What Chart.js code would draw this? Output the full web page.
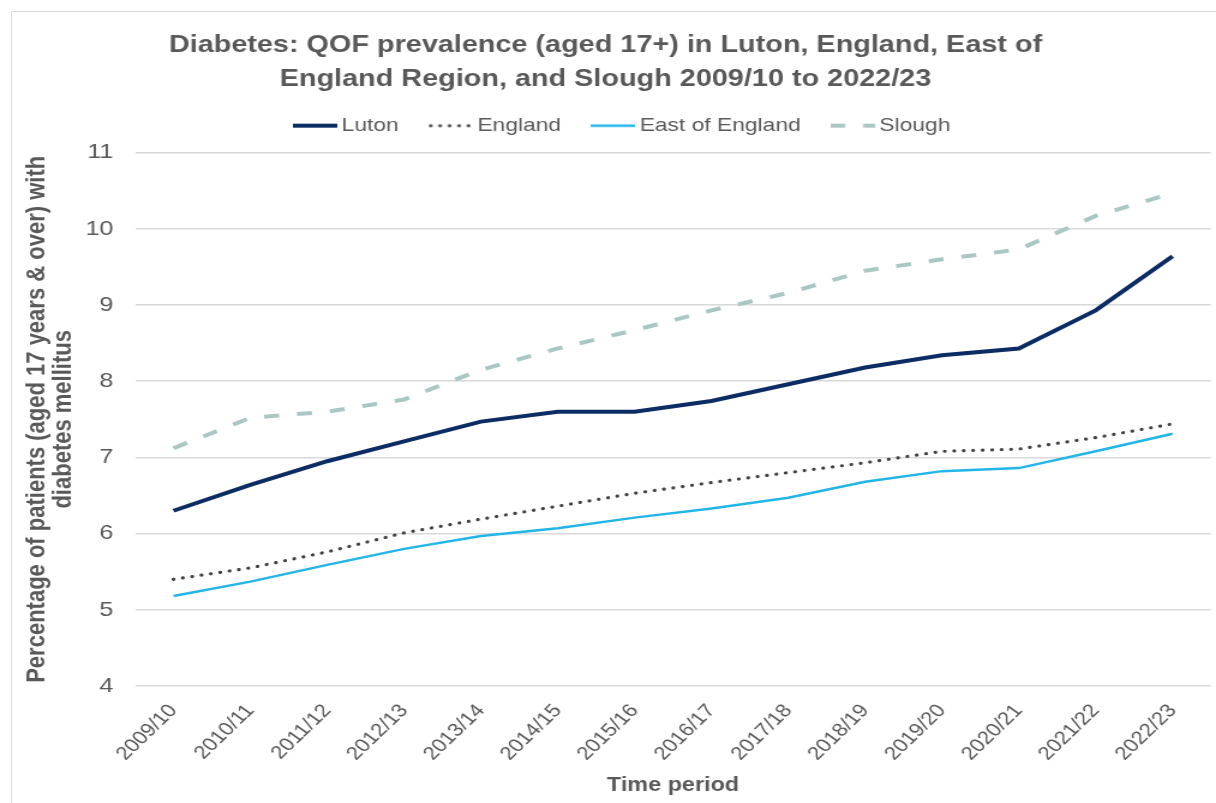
<!DOCTYPE html>
<html>
<head>
<meta charset="utf-8">
<script src="https://cdn.jsdelivr.net/npm/chart.js@4.4.1/dist/chart.umd.min.js"></script>
<style>
  html, body { margin: 0; padding: 0; background: #ffffff; }
  #wrap { position: relative; width: 1216px; height: 803px; overflow: hidden; background: #ffffff; }
  #frame { position: absolute; left: 11px; top: 11px; width: 1220px; height: 800px; border: 1px solid #d9d9d9; box-sizing: border-box; }
  /* the chart is laid out on a narrower canvas and widened, giving the wide lettering */
  #c { position: absolute; left: 0; top: 0; transform-origin: 0 0; }
</style>
</head>
<body>
<div id="wrap">
  <div id="frame"></div>
  <canvas id="c"></canvas>
</div>
<script>
// Financial years shown on the x axis
const periods = ['2009/10', '2010/11', '2011/12', '2012/13', '2013/14', '2014/15', '2015/16',
                 '2016/17', '2017/18', '2018/19', '2019/20', '2020/21', '2021/22', '2022/23'];

// QOF diabetes prevalence, % of patients aged 17+
const luton         = [6.30, 6.64, 6.95, 7.21, 7.47, 7.60, 7.60, 7.74, 7.96, 8.18, 8.34, 8.43, 8.93, 9.64];
const england       = [5.40, 5.55, 5.76, 6.01, 6.19, 6.36, 6.53, 6.67, 6.80, 6.93, 7.08, 7.11, 7.26, 7.44];
const eastOfEngland = [5.18, 5.37, 5.59, 5.80, 5.97, 6.07, 6.21, 6.33, 6.47, 6.68, 6.82, 6.86, 7.08, 7.31];
const slough        = [7.12, 7.52, 7.60, 7.76, 8.15, 8.43, 8.67, 8.93, 9.16, 9.45, 9.60, 9.73, 10.17, 10.47];

// Value axis range and step
const yMin = 4;
const yMax = 11;
const yStep = 1;

const titleLines = ['Diabetes: QOF prevalence (aged 17+) in Luton, England, East of',
                    'England Region, and Slough 2009/10 to 2022/23'];
const yTitleLines = ['Percentage of patients (aged 17 years & over) with', 'diabetes mellitus'];
const xTitle = 'Time period';

const TEXT = '#595959';
const FONT = "'Liberation Sans', Arial, sans-serif";

// Canvas geometry: drawn at CANVAS_W wide, then widened to PAGE_W
const PAGE_W = 1216;
const CANVAS_W = 1013;
const CANVAS_H = 803;
const STRETCH = PAGE_W / CANVAS_W;

const canvas = document.getElementById('c');
canvas.width = CANVAS_W;
canvas.height = CANVAS_H;
canvas.style.transform = 'scaleX(' + STRETCH + ')';

// Legend swatch: a short stretch of each series' own line style
function swatchFor(ds) {
  const c = document.createElement('canvas');
  c.width = 37;
  c.height = 10;
  const g = c.getContext('2d');
  g.strokeStyle = ds.borderColor;
  g.lineWidth = ds.borderWidth;
  g.lineCap = ds.borderCapStyle || 'butt';
  g.setLineDash(ds.borderDash || []);
  const inset = g.lineCap === 'round' ? 2 : 0;
  g.beginPath();
  g.moveTo(inset, 5);
  g.lineTo(37, 5);
  g.stroke();
  return c;
}

// Places the legend row under the title and sizes its band
const LEGEND_BAND = 55.5;
const LEGEND_SHIFT_X = 16;
const LEGEND_SHIFT_Y = -11;
const legendPlacement = {
  id: 'legendPlacement',
  beforeLayout(chart) {
    const lg = chart.legend;
    if (lg && !lg._bandPatched) {
      const fit = lg.fit;
      lg.fit = function () { fit.call(this); this.height = LEGEND_BAND; };
      lg._bandPatched = true;
    }
  },
  afterLayout(chart) {
    const lg = chart.legend;
    if (!lg) return;
    lg.left += LEGEND_SHIFT_X; lg.right += LEGEND_SHIFT_X;
    lg.top += LEGEND_SHIFT_Y; lg.bottom += LEGEND_SHIFT_Y;
  }
};

new Chart(canvas, {
  type: 'line',
  data: {
    labels: periods,
    datasets: [
      { label: 'Luton', data: luton, borderColor: '#0c2c64', backgroundColor: '#0c2c64',
        borderWidth: 4, pointRadius: 0, tension: 0 },
      { label: 'England', data: england, borderColor: '#404040', backgroundColor: '#404040',
        borderWidth: 3.2, borderDash: [0.1, 7.8], borderCapStyle: 'round', pointRadius: 0, tension: 0 },
      { label: 'East of England', data: eastOfEngland, borderColor: '#22b5e8', backgroundColor: '#22b5e8',
        borderWidth: 2.5, pointRadius: 0, tension: 0 },
      { label: 'Slough', data: slough, borderColor: '#a9c7c3', backgroundColor: '#a9c7c3',
        borderWidth: 4, borderDash: [12.5, 15], pointRadius: 0, tension: 0 }
    ]
  },
  options: {
    responsive: false,
    animation: false,
    devicePixelRatio: 1,
    layout: { padding: { left: 0, right: 4.2, top: 0, bottom: 0 } },
    plugins: {
      tooltip: { enabled: false },
      title: {
        display: true,
        text: titleLines,
        color: TEXT,
        font: { family: FONT, size: 24, weight: 'bold', lineHeight: 1.42 },
        padding: { top: 28, bottom: 1 }
      },
      legend: {
        display: true,
        position: 'top',
        labels: {
          usePointStyle: true,
          pointStyleWidth: 26,
          color: TEXT,
          font: { family: FONT, size: 19 },
          padding: 30,
          generateLabels(chart) {
            const items = Chart.defaults.plugins.legend.labels.generateLabels(chart);
            items.forEach(item => {
              item.pointStyle = swatchFor(chart.data.datasets[item.datasetIndex]);
            });
            return items;
          }
        }
      }
    },
    scales: {
      x: {
        type: 'category',
        offset: true,
        grid: { display: false, drawTicks: false },
        border: { display: false },
        ticks: {
          color: TEXT,
          font: { family: FONT, size: 18.5 },
          minRotation: 49,
          maxRotation: 49,
          padding: 14,
          autoSkip: false
        },
        title: {
          display: true,
          text: xTitle,
          color: TEXT,
          font: { family: FONT, size: 19.5, weight: 'bold', lineHeight: 1.2 },
          padding: { top: 0, bottom: 5.6 }
        },
        afterFit(scale) { scale.height = 117; }
      },
      y: {
        min: yMin,
        max: yMax,
        grid: { color: '#d9d9d9', lineWidth: 1.5, drawTicks: false },
        border: { display: false },
        ticks: {
          stepSize: yStep,
          color: TEXT,
          font: { family: FONT, size: 21 },
          padding: 18
        },
        title: {
          display: true,
          text: yTitleLines,
          color: TEXT,
          font: { family: FONT, size: 22, weight: 'bold', lineHeight: 1.0 },
          padding: { top: 20, bottom: 0 }
        },
        afterFit(scale) { scale.width = 112.5; }
      }
    }
  },
  plugins: [legendPlacement]
});
</script>
</body>
</html>
